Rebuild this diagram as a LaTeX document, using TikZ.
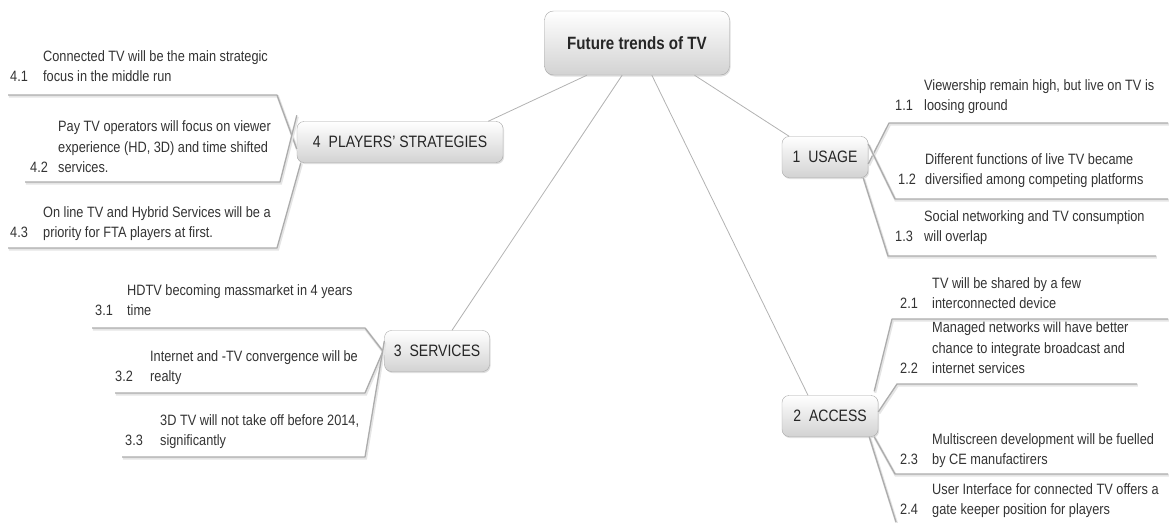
\documentclass[tikz,border=0pt]{standalone}
\usepackage{fontspec}
\setmainfont{Liberation Sans}[FakeStretch=0.85]
\usetikzlibrary{calc,shadows}

\begin{document}
\begin{tikzpicture}[x=1pt,y=-1pt]
\tikzstyle{root} = [rectangle, draw=gray!70, rounded corners=9pt, top color=white,
bottom color=gray!35, minimum width=185pt, minimum height=64pt,
font=\fontsize{17.8}{20}\selectfont\bfseries, text=black!85,
drop shadow={opacity=0.25,shadow xshift=1pt,shadow yshift=-1.5pt}]
\tikzstyle{branch} = [rectangle, draw=gray!70, rounded corners=7pt, top color=white,
bottom color=gray!35, minimum height=41pt, inner xsep=6pt,
font=\fontsize{16.5}{18}\selectfont, text=black!85,
drop shadow={opacity=0.25,shadow xshift=1pt,shadow yshift=-1.5pt}]
\tikzstyle{leaf} = [anchor=south west, inner sep=0pt, align=left, text depth=3pt,
font=\fontsize{15}{20.5}\selectfont, text=black!80]
\tikzstyle{num} = [anchor=south west, inner sep=0pt, text depth=3pt,
font=\fontsize{15}{20.5}\selectfont, text=black!80]
\tikzstyle{stem} = [draw=gray!60, line width=0.8pt]
\tikzstyle{uline} = [draw=gray!65, line width=1.3pt, line join=round,
preaction={draw=gray!20, line width=2.6pt, transform canvas={shift={(0.8pt,-1.4pt)}}}]

\useasboundingbox (0,0) rectangle (1169,522);

% centre and main branches
\node [root] (root) at (637,43) {Future trends of TV};
\node [branch, minimum width=206pt] (players) at (400,142) {4\hspace{8pt}PLAYERS' STRATEGIES};
\node [branch, minimum width=105pt] (services) at (437,351) {3\hspace{8pt}SERVICES};
\node [branch, minimum width=86pt] (usage) at (825,157) {1\hspace{8pt}USAGE};
\node [branch, minimum width=96pt] (access) at (830,416) {2\hspace{8pt}ACCESS};

\draw [stem] ($(root.south west)!.23!(root.south east)$) -- ([xshift=-15pt]players.north east);
\draw [stem] ($(root.south west)!.42!(root.south east)$) -- ([xshift=15pt]services.north);
\draw [stem] ($(root.south west)!.58!(root.south east)$) -- ([xshift=-22pt]access.north);
\draw [stem] ($(root.south west)!.81!(root.south east)$) -- (usage.150);

% 4 players' strategies
\node [leaf] (t41) at (43,85) {Connected TV will be the main strategic\\focus in the middle run};
\node [num] (n41) at (10,85) {4.1};
\node [leaf] (t42) at (58,176) {Pay TV operators will focus on viewer\\experience (HD, 3D) and time shifted\\services.};
\node [num] (n42) at (30,176) {4.2};
\node [leaf] (t43) at (43,241) {On line TV and Hybrid Services will be a\\priority for FTA players at first.};
\node [num] (n43) at (10,241) {4.3};
\coordinate (a41) at (277,95);  \coordinate (b41) at (8,95);
\coordinate (a42) at (280,182); \coordinate (b42) at (25,182);
\coordinate (a43) at (277,248); \coordinate (b43) at (8,248);
\path [uline] ([yshift=-7pt]players.west) -- (a41) -- (b41);
\path [uline] ([yshift=6pt]players.north west) -- (a42) -- (b42);
\path [uline] ([xshift=4pt]players.south west) -- (a43) -- (b43);

% 3 services
\node [leaf] (t31) at (127,319) {HDTV becoming massmarket in 4 years\\time};
\node [num] (n31) at (95,319) {3.1};
\node [leaf] (t32) at (150,385) {Internet and -TV convergence will be\\realty};
\node [num] (n32) at (115,385) {3.2};
\node [leaf] (t33) at (160,449) {3D TV will not take off before 2014,\\significantly};
\node [num] (n33) at (125,449) {3.3};
\coordinate (a31) at (365,328); \coordinate (b31) at (92,328);
\coordinate (a32) at (365,393); \coordinate (b32) at (115,393);
\coordinate (a33) at (365,457); \coordinate (b33) at (122,457);
\path [uline] ([yshift=-2pt]services.west) -- (a31) -- (b31);
\path [uline] ([yshift=3pt]services.west) -- (a32) -- (b32);
\path [uline] ([yshift=10pt]services.west) -- (a33) -- (b33);

% 1 usage
\node [leaf] (t11) at (924,114) {Viewership remain high, but live on TV is\\loosing ground};
\node [num] (n11) at (895,114) {1.1};
\node [leaf] (t12) at (925,188) {Different functions of live TV became\\diversified among competing platforms};
\node [num] (n12) at (898,188) {1.2};
\node [leaf] (t13) at (924,245) {Social networking and TV consumption\\will overlap};
\node [num] (n13) at (895,245) {1.3};
\coordinate (a11) at (889,123); \coordinate (b11) at (1168,123);
\coordinate (a12) at (895,199); \coordinate (b12) at (1168,199);
\coordinate (a13) at (888,256); \coordinate (b13) at (1156,256);
\path [uline] ([yshift=-7pt]usage.east) -- (a11) -- (b11);
\path [uline] ([yshift=13pt]usage.east) -- (a12) -- (b12);
\path [uline] ([xshift=-5pt]usage.south east) -- (a13) -- (b13);

% 2 access
\node [leaf] (t21) at (932,312) {TV will be shared by a few\\interconnected device};
\node [num] (n21) at (900,312) {2.1};
\node [leaf] (t22) at (932,377) {Managed networks will have better\\chance to integrate broadcast and\\internet services};
\node [num] (n22) at (900,377) {2.2};
\node [leaf] (t23) at (932,468) {Multiscreen development will be fuelled\\by CE manufactirers};
\node [num] (n23) at (900,468) {2.3};
\node [leaf] (t24) at (932,518) {User Interface for connected TV offers a\\gate keeper position for players};
\node [num] (n24) at (900,518) {2.4};
\coordinate (a21) at (892,319); \coordinate (b21) at (1168,319);
\coordinate (a22) at (897,384); \coordinate (b22) at (1137,384);
\coordinate (a23) at (895,474); \coordinate (b23) at (1168,474);
\coordinate (a24) at (896,522);
\path [uline] ([xshift=-4pt,yshift=4pt]access.north east) -- (a21) -- (b21);
\path [uline] ([yshift=4pt]access.east) -- (a22) -- (b22);
\path [uline] ([xshift=-4pt]access.south east) -- (a23) -- (b23);
\path [uline] ([xshift=-9pt]access.south east) -- (a24);
\end{tikzpicture}
\end{document}
